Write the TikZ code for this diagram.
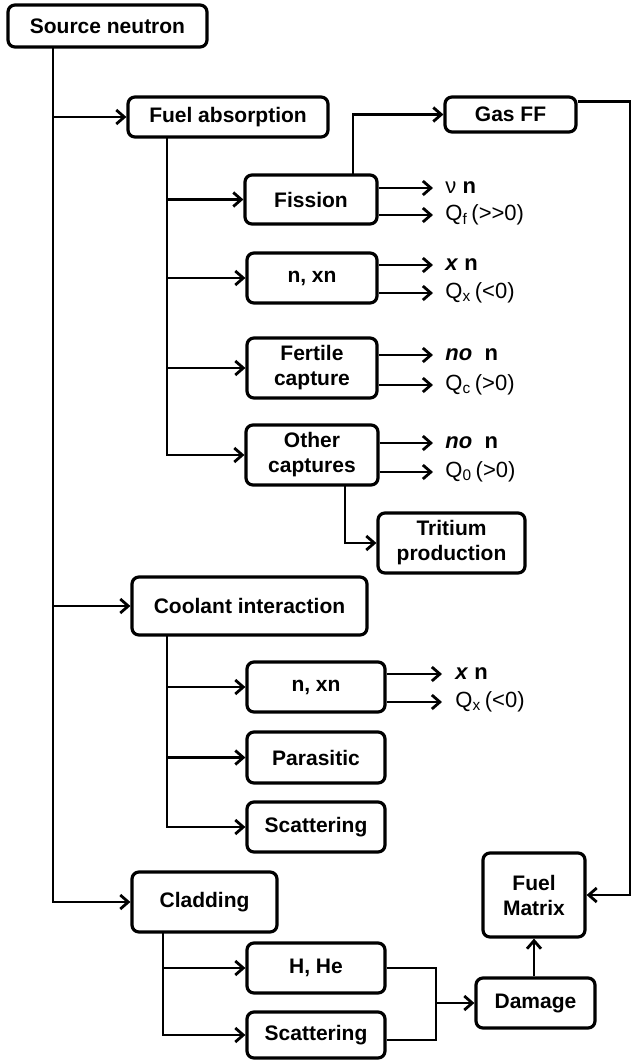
\documentclass[tikz,border=0pt]{standalone}
\usepackage{fontspec}
\setmainfont{Liberation Sans}
\usetikzlibrary{arrows.meta}
\begin{document}
\begin{tikzpicture}[x=0.5pt,y=-0.5pt,
  box/.style={draw, line width=1.6pt, rounded corners=3.5pt, align=center, inner sep=1pt,
    font=\bfseries\fontsize{10.5}{12.5}\selectfont},
  arr/.style={line width=1.45pt, -{Straight Barb[length=4pt,width=7pt,line width=1.4pt]}},
  ln/.style={line width=1.45pt},
  lab/.style={anchor=west, inner sep=0pt, font=\fontsize{11}{13}\selectfont}]
\useasboundingbox (0,0) rectangle (633,1061);
% boxes
\node[box, minimum width=99.5pt, minimum height=21pt] (src) at (107.5,26) {Source neutron};
\node[box, minimum width=100pt, minimum height=20pt] (fuel) at (228,117) {Fuel absorption};
\node[box, minimum width=65.5pt, minimum height=17.5pt] (gas) at (510.5,114.5) {Gas FF};
\node[box, minimum width=66pt, minimum height=24.5pt] (fis) at (311,199.5) {Fission};
\node[box, minimum width=65pt, minimum height=25pt] (nxa) at (312,278) {n, xn};
\node[box, minimum width=65pt, minimum height=30pt] (fert) at (312,368) {Fertile\\capture};
\node[box, minimum width=66pt, minimum height=30pt] (oth) at (312,455) {Other\\captures};
\node[box, minimum width=73.5pt, minimum height=30pt] (trit) at (451.5,543) {Tritium\\production};
\node[box, minimum width=117.5pt, minimum height=29pt] (cool) at (249.5,606) {Coolant interaction};
\node[box, minimum width=69pt, minimum height=25pt] (nxb) at (316,687) {n, xn};
\node[box, minimum width=69pt, minimum height=25.5pt] (para) at (316,757.5) {Parasitic};
\node[box, minimum width=69pt, minimum height=25pt] (scb) at (316,827) {Scattering};
\node[box, minimum width=72.5pt, minimum height=30pt] (clad) at (204.5,902) {Cladding};
\node[box, minimum width=69pt, minimum height=25pt] (hhe) at (316,968) {H, He};
\node[box, minimum width=69pt, minimum height=23pt] (scc) at (316,1035) {Scattering};
\node[box, minimum width=59.5pt, minimum height=25pt] (dmg) at (535.5,1003) {Damage};
\node[box, minimum width=51pt, minimum height=42pt] (fm) at (534,895) {Fuel\\Matrix};
% output labels
\node[lab] (f1) at (445,188) {ν \textbf{n}};
\node[lab] (f2) at (445,215) {Q\textsubscript{f}\,(>{}>0)};
\node[lab] (a1) at (445,265) {\textbf{\textit{x}} \textbf{n}};
\node[lab] (a2) at (445,293) {Q\textsubscript{x}\,(<0)};
\node[lab] (c1) at (445,355) {\textbf{\textit{no}}\ \ \textbf{n}};
\node[lab] (c2) at (445,385) {Q\textsubscript{c}\,(>0)};
\node[lab] (o1) at (445,443) {\textbf{\textit{no}}\ \ \textbf{n}};
\node[lab] (o2) at (445,472) {Q\textsubscript{0}\,(>0)};
\node[lab] (b1) at (455,674) {\textbf{\textit{x}} \textbf{n}};
\node[lab] (b2) at (455,702) {Q\textsubscript{x}\,(<0)};
% coordinates
\coordinate (mtop) at (53,47);
\coordinate (fv) at (167,137);
\coordinate (g0) at (353,175);
\coordinate (t0) at (345,485);
\coordinate (cv) at (167,635);
\coordinate (dv) at (163,932);
\coordinate (jn) at (436,1003);
\coordinate (rc) at (630,500);
% main trunk
\draw[arr] (mtop) |- (clad.west);
\draw[arr] (mtop |- fuel.west) -- (fuel.west);
\draw[arr] (mtop |- cool.west) -- (cool.west);
% fuel absorption branch
\draw[arr] (fv) |- (oth.west);
\draw[arr] (fv |- fis.west) -- (fis.west);
\draw[arr] (fv |- nxa.west) -- (nxa.west);
\draw[arr] (fv |- fert.west) -- (fert.west);
\draw[arr] (g0) |- (gas.west);
\draw[arr] (t0) |- (trit.west);
% outputs
\draw[arr] (fis.east |- f1.west) -- ([xshift=-6pt]f1.west);
\draw[arr] (fis.east |- f2.west) -- ([xshift=-6pt]f2.west);
\draw[arr] (nxa.east |- a1.west) -- ([xshift=-6pt]a1.west);
\draw[arr] (nxa.east |- a2.west) -- ([xshift=-6pt]a2.west);
\draw[arr] (fert.east |- c1.west) -- ([xshift=-6pt]c1.west);
\draw[arr] (fert.east |- c2.west) -- ([xshift=-6pt]c2.west);
\draw[arr] (oth.east |- o1.west) -- ([xshift=-6pt]o1.west);
\draw[arr] (oth.east |- o2.west) -- ([xshift=-6pt]o2.west);
\draw[arr] (nxb.east |- b1.west) -- ([xshift=-6.5pt]b1.west);
\draw[arr] (nxb.east |- b2.west) -- ([xshift=-6.5pt]b2.west);
% coolant branch
\draw[arr] (cv) |- (scb.west);
\draw[arr] (cv |- nxb.west) -- (nxb.west);
\draw[arr] (cv |- para.west) -- (para.west);
% cladding branch
\draw[arr] (dv) |- (scc.west);
\draw[arr] (dv |- hhe.west) -- (hhe.west);
\draw[ln] (hhe.east) -| (jn);
\draw[ln] ([yshift=-2.5pt]scc.east) -| (jn);
\draw[arr] (jn) -- (dmg.west);
\draw[arr] (dmg.north -| fm.south) -- (fm.south);
% gas to fuel matrix
\draw[arr] ([yshift=-3pt]gas.north east) -| (rc) |- (fm.east);
\end{tikzpicture}
\end{document}
